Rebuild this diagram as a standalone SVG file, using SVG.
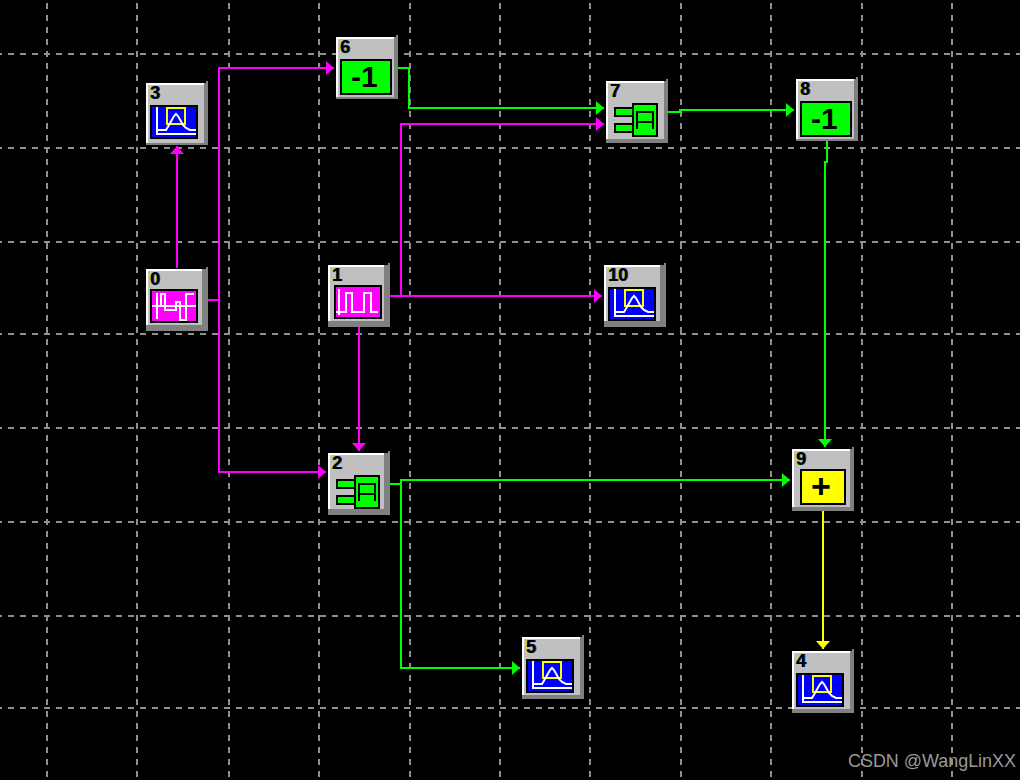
<svg xmlns="http://www.w3.org/2000/svg" width="1020" height="780" viewBox="0 0 1020 780">
<style>
.grid line{stroke:#909090;stroke-width:2;stroke-dasharray:6 6;stroke-dashoffset:9}
.grid .h{stroke-dashoffset:4}
.conn path{fill:none;stroke-width:2}
.m{stroke:#ff00ff}.g{stroke:#00ff00}.y{stroke:#ffff00}
.dk{fill:#808080}.wh{fill:#fff}.fc{fill:#c0c0c0}.bk{fill:#000}
.id{font:bold 18px "Liberation Sans",Arial,sans-serif;fill:#000;filter:url(#fringe)}
.big{font:bold 30px "Liberation Sans",Arial,sans-serif;fill:#000}
.wave{fill:none;stroke:#fff;stroke-width:2}
</style>
<defs>
<filter id="fringe" x="-30%" y="-10%" width="160%" height="120%" color-interpolation-filters="sRGB">
<feOffset in="SourceAlpha" dx="-1" result="a"/><feFlood flood-color="#d8c000"/><feComposite in2="a" operator="in" result="l"/>
<feOffset in="SourceAlpha" dx="1" result="b"/><feFlood flood-color="#0040c0"/><feComposite in2="b" operator="in" result="r"/>
<feMerge><feMergeNode in="l"/><feMergeNode in="r"/><feMergeNode in="SourceGraphic"/></feMerge>
</filter>
<marker id="am" markerUnits="userSpaceOnUse" markerWidth="9" markerHeight="14" refX="8" refY="7" orient="auto"><path d="M0 0L8 7L0 14Z" fill="#ff00ff"/></marker>
<marker id="ag" markerUnits="userSpaceOnUse" markerWidth="9" markerHeight="14" refX="8" refY="7" orient="auto"><path d="M0 0L8 7L0 14Z" fill="#00ff00"/></marker>
<marker id="ay" markerUnits="userSpaceOnUse" markerWidth="9" markerHeight="14" refX="8" refY="7" orient="auto"><path d="M0 0L8 7L0 14Z" fill="#ffff00"/></marker>
<g id="scope">
<rect class="bk" x="4" y="22" width="48" height="34"/><rect x="6" y="24" width="44" height="30" fill="#0000ff"/>
<rect x="21" y="25" width="18" height="16" fill="none" stroke="#ffff00" stroke-width="2"/>
<path class="wave" d="M11 24V51H50M12 47H20L23 42L28 33L30 31L32 33L37 42L40 45L44 47H50"/>
</g>
<g id="logic">
<rect class="bk" x="8" y="26" width="18" height="10"/><rect class="bk" x="8" y="42" width="18" height="10"/>
<rect x="10" y="28" width="16" height="6" fill="#00ff00"/><rect x="10" y="44" width="16" height="6" fill="#00ff00"/>
<rect class="bk" x="26" y="22" width="26" height="34"/><rect x="28" y="24" width="22" height="30" fill="#00ff00"/>
<path d="M31 48V31H47V48M31 41H47" fill="none" stroke="#000" stroke-width="2"/>
</g>
<g id="inv">
<rect class="bk" x="4" y="22" width="52" height="36"/><rect x="6" y="24" width="48" height="32" fill="#00ff00"/>
</g>
</defs>
<rect width="1020" height="780" fill="#000"/>
<g class="grid">
<line x1="47" y1="0" x2="47" y2="780"/><line x1="137" y1="0" x2="137" y2="780"/><line x1="229" y1="0" x2="229" y2="780"/><line x1="319" y1="0" x2="319" y2="780"/><line x1="410" y1="0" x2="410" y2="780"/><line x1="500" y1="0" x2="500" y2="780"/><line x1="590" y1="0" x2="590" y2="780"/><line x1="681" y1="0" x2="681" y2="780"/><line x1="771" y1="0" x2="771" y2="780"/><line x1="862" y1="0" x2="862" y2="780"/><line x1="952" y1="0" x2="952" y2="780"/>
<line class="h" x1="0" y1="54" x2="1020" y2="54"/><line class="h" x1="0" y1="148" x2="1020" y2="148"/><line class="h" x1="0" y1="242" x2="1020" y2="242"/><line class="h" x1="0" y1="334" x2="1020" y2="334"/><line class="h" x1="0" y1="428" x2="1020" y2="428"/><line class="h" x1="0" y1="522" x2="1020" y2="522"/><line class="h" x1="0" y1="616" x2="1020" y2="616"/><line class="h" x1="0" y1="708" x2="1020" y2="708"/>
</g>
<g class="conn" id="connectors">
<path class="m" marker-end="url(#am)" d="M177 268V146"/>
<path class="m" marker-end="url(#am)" d="M208 300H219V68H334"/>
<path class="m" marker-end="url(#am)" d="M208 300H219V472H326"/>
<path class="g" marker-end="url(#ag)" d="M398 68H409V108H604"/>
<path class="m" marker-end="url(#am)" d="M390 296H401V124H604"/>
<path class="m" marker-end="url(#am)" d="M390 296H602"/>
<path class="m" marker-end="url(#am)" d="M359 327V451"/>
<path class="g" marker-end="url(#ag)" d="M668 112H680V110H794"/>
<path class="g" marker-end="url(#ag)" d="M827 141V162H825V447"/>
<path class="g" marker-end="url(#ag)" d="M390 484H401V480H790"/>
<path class="g" marker-end="url(#ag)" d="M401 484V668H520"/>
<path class="y" marker-end="url(#ay)" d="M823 511V649"/>
</g>
<g id="node0" transform="translate(146 269)">
<rect class="dk" width="62" height="62"/><rect class="dk" x="60" y="-2" width="2" height="2"/><rect class="wh" width="56" height="56"/><rect class="fc" x="2" y="2" width="54" height="54"/>
<rect class="bk" x="4" y="20" width="48" height="34"/><rect x="6" y="22" width="44" height="30" fill="#ff00ff"/>
<path class="wave" d="M6 37H50M11 24V50M15 37V25H19V41H30V33H34V51H40V25H48"/>
<text class="id" x="4" y="16">0</text>
</g>
<g id="node1" transform="translate(328 265)">
<rect class="dk" width="62" height="62"/><rect class="dk" x="60" y="-2" width="2" height="2"/><rect class="wh" width="56" height="56"/><rect class="fc" x="2" y="2" width="54" height="54"/>
<rect class="bk" x="6" y="20" width="48" height="34"/><rect x="8" y="22" width="44" height="30" fill="#ff00ff"/>
<path class="wave" d="M11 24V50M8 47H18V28H24V47H36V28H43V47H50"/>
<text class="id" x="4" y="16">1</text>
</g>
<g id="node2" transform="translate(328 453)">
<rect class="dk" width="62" height="62"/><rect class="dk" x="60" y="-2" width="2" height="2"/><rect class="wh" width="56" height="56"/><rect class="fc" x="2" y="2" width="54" height="54"/>
<use href="#logic"/>
<text class="id" x="4" y="16">2</text>
</g>
<g id="node3" transform="translate(146 83)">
<rect class="dk" width="62" height="62"/><rect class="dk" x="60" y="-2" width="2" height="2"/><rect class="wh" width="58" height="60"/><rect class="fc" x="2" y="2" width="56" height="58"/>
<use href="#scope"/>
<text class="id" x="4" y="16">3</text>
</g>
<g id="node4" transform="translate(792 651)">
<rect class="dk" width="62" height="62"/><rect class="dk" x="60" y="-2" width="2" height="2"/><rect class="wh" width="58" height="58"/><rect class="fc" x="2" y="2" width="56" height="56"/>
<use href="#scope"/>
<text class="id" x="4" y="16">4</text>
</g>
<g id="node5" transform="translate(522 637)">
<rect class="dk" width="62" height="62"/><rect class="dk" x="60" y="-2" width="2" height="2"/><rect class="wh" width="58" height="58"/><rect class="fc" x="2" y="2" width="56" height="56"/>
<use href="#scope"/>
<text class="id" x="4" y="16">5</text>
</g>
<g id="node6" transform="translate(336 37)">
<rect class="dk" width="62" height="62"/><rect class="dk" x="60" y="-2" width="2" height="2"/><rect class="wh" width="58" height="60"/><rect class="fc" x="2" y="2" width="56" height="58"/>
<use href="#inv"/>
<text class="big" x="15" y="50">-1</text>
<text class="id" x="4" y="16">6</text>
</g>
<g id="node7" transform="translate(606 81)">
<rect class="dk" width="62" height="62"/><rect class="dk" x="60" y="-2" width="2" height="2"/><rect class="wh" width="58" height="58"/><rect class="fc" x="2" y="2" width="56" height="56"/>
<use href="#logic"/>
<text class="id" x="4" y="16">7</text>
</g>
<g id="node8" transform="translate(796 79)">
<rect class="dk" width="62" height="62"/><rect class="dk" x="60" y="-2" width="2" height="2"/><rect class="wh" width="58" height="60"/><rect class="fc" x="2" y="2" width="56" height="58"/>
<use href="#inv"/>
<text class="big" x="15" y="50">-1</text>
<text class="id" x="4" y="16">8</text>
</g>
<g id="node9" transform="translate(792 449)">
<rect class="dk" width="62" height="62"/><rect class="dk" x="60" y="-2" width="2" height="2"/><rect class="wh" width="58" height="58"/><rect class="fc" x="2" y="2" width="56" height="56"/>
<rect class="bk" x="8" y="20" width="46" height="36"/><rect x="10" y="22" width="42" height="32" fill="#ffff00"/>
<text class="big" x="29" y="49" text-anchor="middle" style="font-size:34px">+</text>
<text class="id" x="4" y="16">9</text>
</g>
<g id="node10" transform="translate(604 265)">
<rect class="dk" width="62" height="62"/><rect class="dk" x="60" y="-2" width="2" height="2"/><rect class="wh" width="56" height="56"/><rect class="fc" x="2" y="2" width="54" height="54"/>
<use href="#scope"/>
<text class="id" x="4" y="16">10</text>
</g>
<text x="848" y="767" font-family="'Liberation Sans',Arial,sans-serif" font-size="18" fill="#999" textLength="168" lengthAdjust="spacingAndGlyphs">CSDN @WangLinXX</text>
</svg>
